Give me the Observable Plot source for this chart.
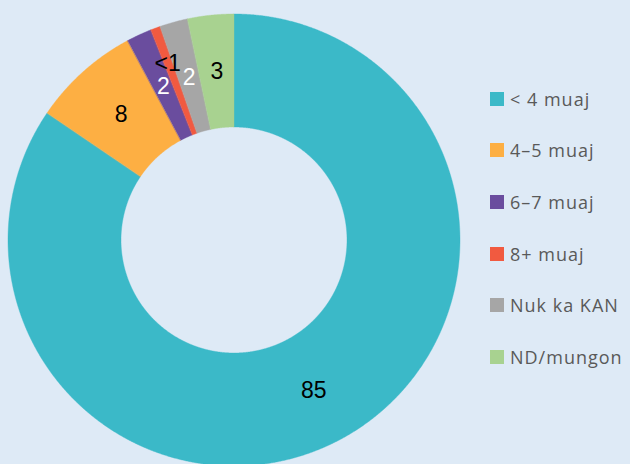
<!DOCTYPE html>
<html>
<head>
<meta charset="utf-8">
<script src="https://cdn.jsdelivr.net/npm/d3@7"></script>
<script src="https://cdn.jsdelivr.net/npm/@observablehq/plot@0.6"></script>
<style>
  html, body { margin: 0; padding: 0; background: #deeaf6; }
  #wrap { position: relative; width: 630px; height: 464px; overflow: hidden; background: #deeaf6; }
  #chart { position: absolute; left: 0; top: 0; }
  #chart svg { background: transparent; }
  #legend { position: absolute; left: 490px; top: 73px; }
  #legend .lg-swatches { font-family: "Open Sans", sans-serif; font-size: 18px; letter-spacing: 1px; color: #595959; margin: 0; columns: auto !important; }
  #legend .lg-swatch { height: 51.6px; padding: 0 !important; display: flex; align-items: center; white-space: nowrap; }
  #legend .lg-swatch svg { margin-right: 6px !important; }
</style>
</head>
<body>
<div id="wrap">
  <div id="chart"></div>
  <div id="legend"></div>
</div>
<script>
const categories = ["< 4 muaj", "4–5 muaj", "6–7 muaj", "8+ muaj", "Nuk ka KAN", "ND/mungon"];
const values = [84.5, 7.7, 1.8, 0.7, 2.0, 3.3];
const labels = ["85", "8", "2", "<1", "2", "3"];
const colors = ["#3bb9c8", "#fdaf43", "#6a4d9e", "#f15a40", "#a6a6a6", "#a8d290"];
const whiteLabelCategories = ["6–7 muaj", "Nuk ka KAN"];

const innerR = 0.5, outerR = 1;
const arcs = d3.pie().sort(null).value(d => d)(values);

// ring-sector samples for each slice
const ring = [];
arcs.forEach((a, i) => {
  const n = Math.max(2, Math.ceil((a.endAngle - a.startAngle) / 0.004));
  for (let k = 0; k <= n; ++k) {
    const t = a.startAngle + (a.endAngle - a.startAngle) * k / n;
    ring.push({
      cat: categories[i],
      x1: innerR * Math.sin(t), y1: -innerR * Math.cos(t),
      x2: outerR * Math.sin(t), y2: -outerR * Math.cos(t)
    });
  }
});

const arcGen = d3.arc().innerRadius(innerR).outerRadius(outerR);
const labelData = arcs.map((a, i) => {
  const [cx, cy] = arcGen.centroid(a);
  return {cat: categories[i], label: labels[i], x: cx, y: cy, value: values[i]};
});
const small = labelData.filter(d => d.value < 1);
const normal = labelData.filter(d => d.value >= 1);

const plot = Plot.plot({
  width: 480,
  height: 464,
  style: {background: "transparent", overflow: "visible"},
  x: {domain: [-1, 1], range: [8, 460], axis: null},
  y: {domain: [-1, 1], range: [14, 466], axis: null},
  color: {domain: categories, range: colors},
  marks: [
    Plot.area(ring, {x1: "x1", y1: "y1", x2: "x2", y2: "y2", z: "cat", fill: "cat", stroke: "cat", strokeWidth: 0.4, curve: "linear"}),
    Plot.text(normal.filter(d => !whiteLabelCategories.includes(d.cat)), {x: "x", y: "y", text: "label", fill: "black", fontSize: 23, fontFamily: "Liberation Sans, Arial, sans-serif"}),
    Plot.text(normal.filter(d => whiteLabelCategories.includes(d.cat)), {x: "x", y: "y", text: "label", fill: "white", fontSize: 23, fontFamily: "Liberation Sans, Arial, sans-serif"}),
    Plot.text(small, {x: "x", y: "y", text: "label", fill: "black", fontSize: 23, dx: -8, dy: -18, fontFamily: "Liberation Sans, Arial, sans-serif"})
  ]
});
document.getElementById("chart").appendChild(plot);

const legend = plot.legend("color", {legend: "swatches", columns: 1, swatchSize: 14, className: "lg"});
document.getElementById("legend").appendChild(legend);
</script>
</body>
</html>
